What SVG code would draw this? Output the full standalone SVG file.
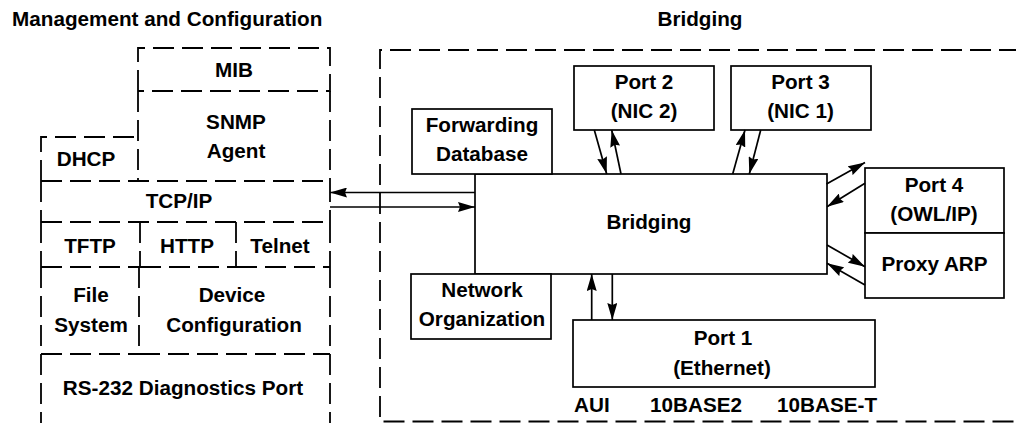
<svg xmlns="http://www.w3.org/2000/svg" width="1016" height="423" viewBox="0 0 1016 423">
<style>
text{font-family:"Liberation Sans",Arial,sans-serif;font-weight:bold;font-size:20.7px;fill:#000;text-anchor:middle}
.t{text-anchor:start}
.d{fill:none;stroke:#000;stroke-width:1.8;stroke-dasharray:21 8}
.s{fill:#fff;stroke:#000;stroke-width:1.7}
.c{fill:none;stroke:#000;stroke-width:1.7;marker-end:url(#ah)}
</style>
<defs>
<marker id="ah" markerUnits="userSpaceOnUse" markerWidth="17" markerHeight="10" viewBox="0 0 17 10" refX="17" refY="5" orient="auto">
<path d="M0,0 L17,5 L0,10 L2,5 z" fill="#000"/>
</marker>
</defs>
<rect width="1016" height="423" fill="#fff"/>
<text class="t" x="12" y="25.5">Management and Configuration</text>
<text x="700" y="25.5">Bridging</text>

<g id="bridging-area"><path class="d" d="M1020,50 H380 V421.5 H1020"/></g>

<g id="mib"><path class="d" d="M138,91 V48 H330 V91 H138"/><text x="234" y="77">MIB</text></g>
<g id="snmp"><path class="d" d="M138,91 V181 M330,91 V181"/><text x="236" y="129">SNMP</text><text x="236" y="158">Agent</text></g>
<g id="dhcp"><path class="d" d="M41,181 V137 H138"/><text x="86" y="166">DHCP</text></g>
<g id="tcpip"><path class="d" d="M41,181 H330 M41,181 V222 M330,181 V222 M41,222 H330"/><text x="179" y="208">TCP/IP</text></g>
<g id="tftp"><path class="d" d="M41,222 V267 M140,222 V267 M41,267 H140"/><text x="90" y="252.5">TFTP</text></g>
<g id="http"><path class="d" d="M140,267 H236 M236,222 V267"/><text x="187" y="252.5">HTTP</text></g>
<g id="telnet"><path class="d" d="M330,222 V267 M236,267 H330"/><text x="280" y="252.5">Telnet</text></g>
<g id="filesystem"><path class="d" d="M41,267 V354 M139,267 V354 M41,354 H139"/><text x="91" y="301.5">File</text><text x="91" y="331.5">System</text></g>
<g id="devconfig"><path class="d" d="M330,267 V354 M139,354 H330"/><text x="232" y="301.5">Device</text><text x="234" y="331.5">Configuration</text></g>
<g id="rs232"><path class="d" d="M41,354 V423 M330,354 V423"/><text x="183" y="395">RS-232 Diagnostics Port</text></g>

<g id="bridging"><rect class="s" x="475" y="174" width="352" height="100"/><text x="649" y="229">Bridging</text></g>
<g id="fwddb"><rect class="s" x="412" y="109" width="140" height="65"/><text x="482" y="132">Forwarding</text><text x="482" y="161">Database</text></g>
<g id="netorg"><rect class="s" x="411" y="274" width="140" height="65"/><text x="482" y="297">Network</text><text x="482" y="326">Organization</text></g>
<g id="port2"><rect class="s" x="574" y="66" width="140" height="64"/><text x="644" y="89">Port 2</text><text x="644" y="118">(NIC 2)</text></g>
<g id="port3"><rect class="s" x="731" y="66" width="140" height="64"/><text x="800.5" y="89">Port 3</text><text x="800.5" y="118">(NIC 1)</text></g>
<g id="port4"><rect class="s" x="865" y="168" width="139" height="65"/><text x="934" y="191.5">Port 4</text><text x="934" y="221">(OWL/IP)</text></g>
<g id="proxyarp"><rect class="s" x="865" y="233" width="139" height="65"/><text x="934.5" y="270.5">Proxy ARP</text></g>
<g id="port1"><rect class="s" x="573" y="320" width="302" height="67"/><text x="723" y="345">Port 1</text><text x="722" y="375">(Ethernet)</text>
<text class="t" x="574" y="411.5">AUI</text><text class="t" x="650" y="411.5">10BASE2</text><text class="t" x="777" y="411.5">10BASE-T</text></g>

<g id="connectors">
<path class="c" d="M475,192.5 H330"/>
<path class="c" d="M330,207 H475"/>
<path class="c" d="M594.3,130 L606.7,174"/>
<path class="c" d="M621,174 L611.7,130"/>
<path class="c" d="M732.7,174 L745,130"/>
<path class="c" d="M760.7,130 L749.3,174"/>
<path class="c" d="M826.5,184 L865,162.5"/>
<path class="c" d="M865,183.3 L827,206.7"/>
<path class="c" d="M827,245 L865,266.7"/>
<path class="c" d="M865,285 L827,263.3"/>
<path class="c" d="M591.7,320 V274"/>
<path class="c" d="M612.3,274 V320"/>
</g>
</svg>
